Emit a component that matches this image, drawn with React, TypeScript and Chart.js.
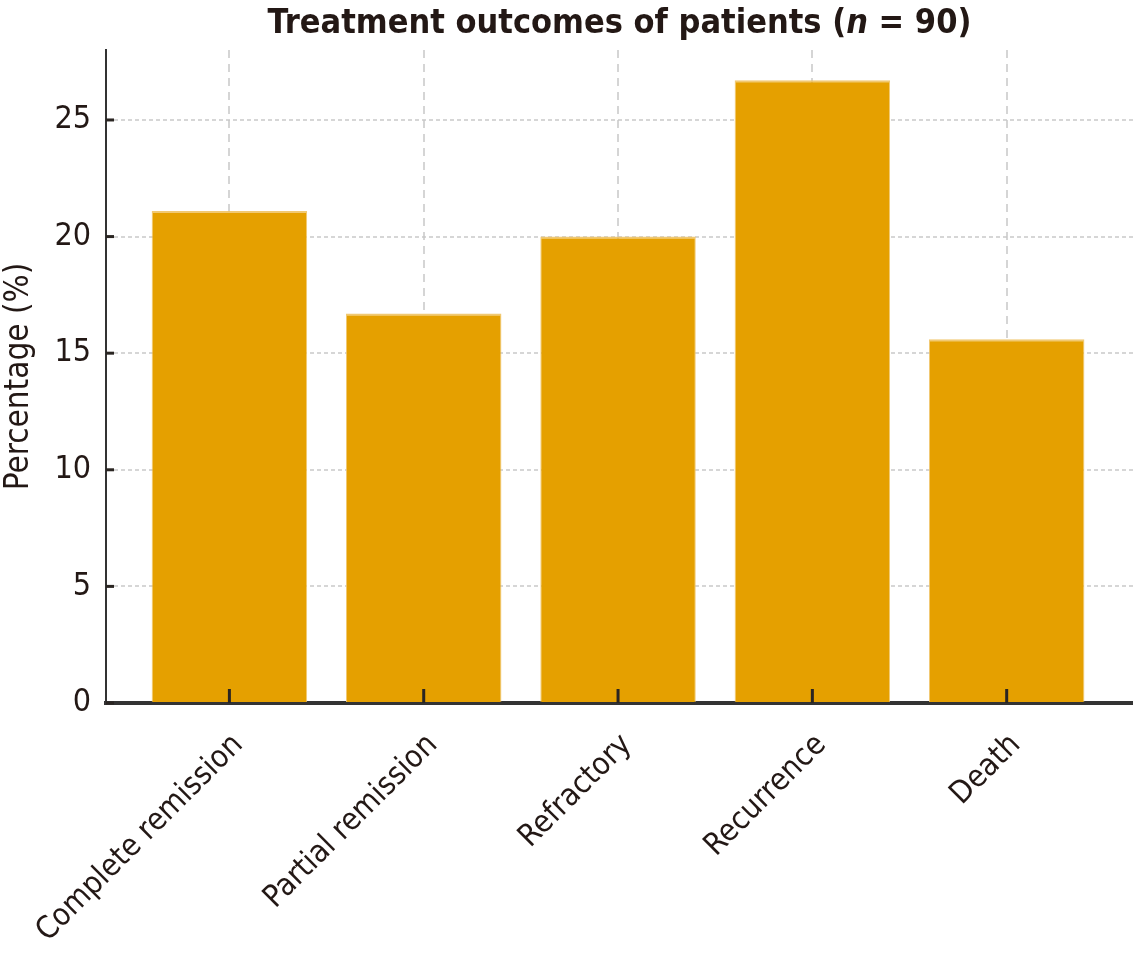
import React, { useEffect, useRef } from "react";
import { Chart, registerables } from "chart.js";

Chart.register(...registerables);

const categories = ["Complete remission", "Partial remission", "Refractory", "Recurrence", "Death"];
const percentages = [21.1, 16.7, 20.0, 26.7, 15.6];
const yTickValues = [0, 5, 10, 15, 20, 25];
const titleParts = [
  { text: "Treatment outcomes of patients (", italic: false },
  { text: "n", italic: true },
  { text: " = 90)", italic: false },
];
const yAxisTitle = "Percentage (%)";

const TEXT = "#231815";
const FONT = "'DejaVu Sans Condensed', 'DejaVu Sans', Verdana, sans-serif";

export default function App() {
  const ref = useRef<HTMLCanvasElement | null>(null);

  useEffect(() => {
    if (!ref.current) return;

    const decorPlugin = {
      id: "decor",
      afterDraw(chart: any) {
        const ctx = chart.ctx;
        const area = chart.chartArea;
        const xs = chart.scales.x;
        const ys = chart.scales.y;
        ctx.save();
        ctx.strokeStyle = "#2a2522";
        ctx.lineWidth = 3;
        yTickValues.forEach((v) => {
          const y = ys.getPixelForValue(v);
          ctx.beginPath();
          ctx.moveTo(area.left, y);
          ctx.lineTo(area.left + 8, y);
          ctx.stroke();
        });
        categories.forEach((_, i) => {
          const x = xs.getPixelForValue(i);
          ctx.beginPath();
          ctx.moveTo(x, area.bottom);
          ctx.lineTo(x, area.bottom - 14);
          ctx.stroke();
        });
        const size = 34;
        const parts = titleParts.map((p) => ({
          ...p,
          font: `${p.italic ? "italic " : ""}bold ${size}px ${FONT}`,
        }));
        let total = 0;
        parts.forEach((p) => {
          ctx.font = p.font;
          total += ctx.measureText(p.text).width;
        });
        let x = (area.left + area.right) / 2 - total / 2;
        ctx.fillStyle = TEXT;
        ctx.textBaseline = "alphabetic";
        ctx.textAlign = "left";
        parts.forEach((p) => {
          ctx.font = p.font;
          ctx.fillText(p.text, x, 33);
          x += ctx.measureText(p.text).width;
        });
        ctx.restore();
      },
    };

    const chart = new Chart(ref.current, {
      type: "bar",
      data: {
        datasets: [
          {
            data: percentages.map((v, i) => ({ x: i, y: v })),
            backgroundColor: "#E5A000",
            borderColor: "rgba(240,195,100,0.9)",
            borderWidth: { top: 2, left: 1, right: 1, bottom: 0 },
            categoryPercentage: 1,
            barPercentage: 0.8,
          },
        ],
      },
      options: {
        animation: false,
        responsive: true,
        maintainAspectRatio: false,
        layout: { padding: { top: 50, right: 0, left: 0, bottom: 0 } },
        plugins: {
          legend: { display: false },
          tooltip: { enabled: false },
          title: { display: false },
        },
        scales: {
          x: {
            type: "linear",
            min: -0.635,
            max: 4.65,
            offset: false,
            z: 1,
            afterBuildTicks: (axis: any) => {
              axis.ticks = categories.map((_, i) => ({ value: i }));
            },
            afterFit: (axis: any) => {
              axis.height = 255;
              axis.paddingLeft = 0;
              axis.paddingRight = 0;
            },
            ticks: {
              autoSkip: false,
              maxRotation: 45,
              minRotation: 45,
              padding: 24,
              labelOffset: 9,
              color: TEXT,
              font: { family: FONT, size: 31 },
              callback: (v: any) => categories[Math.round(Number(v))] ?? "",
            },
            grid: {
              offset: false,
              color: "rgba(195,195,195,0.7)",
              lineWidth: 2,
              drawTicks: false,
            },
            border: { display: true, color: "#333", width: 4, dash: [8, 6] },
          },
          y: {
            min: 0,
            max: 28,
            z: 1,
            afterBuildTicks: (axis: any) => {
              axis.ticks = yTickValues.map((v) => ({ value: v }));
            },
            afterFit: (axis: any) => {
              axis.width = 106;
            },
            ticks: {
              padding: 15,
              color: TEXT,
              font: { family: FONT, size: 32 },
            },
            grid: {
              color: "rgba(200,200,200,0.75)",
              lineWidth: 2,
              drawTicks: false,
            },
            border: { display: true, color: "#333", width: 2, dash: [4, 3] },
            title: {
              display: true,
              text: yAxisTitle,
              color: TEXT,
              font: { family: FONT, size: 33 },
              padding: { top: 0, bottom: 0 },
            },
          },
        },
      } as any,
      plugins: [decorPlugin],
    });

    return () => chart.destroy();
  }, []);

  return (
    <div style={{ position: "absolute", left: 0, top: 0, width: 1133, height: 958 }}>
      <canvas ref={ref} />
    </div>
  );
}
